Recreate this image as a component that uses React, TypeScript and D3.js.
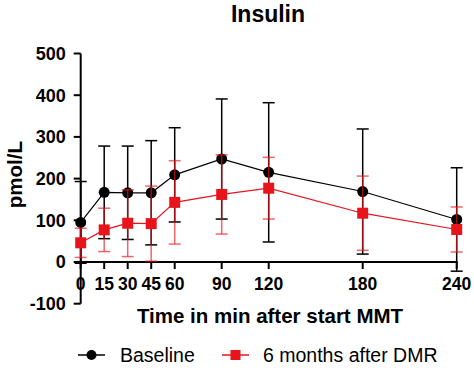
import React from "react";
import * as d3 from "d3";

const times = [0, 15, 30, 45, 60, 90, 120, 180, 240];
const baselineMean = [95, 167, 166, 166, 209, 247, 215, 169, 102];
const baselineSD = [98, 111, 112, 125, 113, 144, 167, 150, 124];
const dmrMean = [46, 77, 93, 92, 143, 162, 177, 117, 78];
const dmrSD = [35, 52, 80, 90, 100, 95, 74, 89, 54];
const yTicks = [-100, 0, 100, 200, 300, 400, 500];
const xTicks = [0, 15, 30, 45, 60, 90, 120, 180, 240];

const W = 474;
const H = 380;
const FONT = "'Liberation Sans', Arial, sans-serif";

export default function App() {
  const x = d3.scaleLinear().domain([0, 240]).range([80.7, 456.7]);
  const y = d3.scaleLinear().domain([-100, 500]).range([303.7, 53.5]);

  const line = d3
    .line<[number, number]>()
    .x((d) => x(d[0]))
    .y((d) => y(d[1]));

  const baseData = times.map((t, i) => [t, baselineMean[i]] as [number, number]);
  const dmrData = times.map((t, i) => [t, dmrMean[i]] as [number, number]);

  const cap = 6;
  const red = "#e8141c";

  const errorBars = (means: number[], sds: number[], color: string, opacity: number) =>
    times.map((t, i) => {
      const cx = x(t);
      const hi = y(means[i] + sds[i]);
      const lo = y(means[i] - sds[i]);
      return (
        <g key={i} stroke={color} strokeWidth={1.5} strokeOpacity={opacity}>
          <line x1={cx} x2={cx} y1={hi} y2={lo} />
          <line x1={cx - cap} x2={cx + cap} y1={hi} y2={hi} />
          <line x1={cx - cap} x2={cx + cap} y1={lo} y2={lo} />
        </g>
      );
    });

  return (
    <svg
      width={W}
      height={H}
      style={{ position: "absolute", left: 0, top: 0, background: "#fff" }}
      fontFamily={FONT}
    >
      <rect width={W} height={H} fill="#fff" />
      {/* Title */}
      <text x={268} y={21.5} textAnchor="middle" fontSize={23} fontWeight="bold">
        Insulin
      </text>

      {/* Y axis */}
      <line x1={x(0)} x2={x(0)} y1={y(-100)} y2={y(500)} stroke="#000" strokeWidth={2} />
      {yTicks.map((v) => (
        <g key={v}>
          <line x1={x(0) - 7} x2={x(0)} y1={y(v)} y2={y(v)} stroke="#000" strokeWidth={2} />
          <text
            x={x(0) - 15}
            y={y(v)}
            dy="0.36em"
            textAnchor="end"
            fontSize={18}
            fontWeight="bold"
          >
            {v}
          </text>
        </g>
      ))}
      <text
        transform={`translate(22,${(y(-100) + y(500)) / 2 - 4}) rotate(-90)`}
        textAnchor="middle"
        fontSize={20.5}
        fontWeight="bold"
      >
        pmol/L
      </text>

      {/* X axis */}
      <line x1={x(0) - 1} x2={x(240) + 1} y1={y(0)} y2={y(0)} stroke="#000" strokeWidth={2} />
      {xTicks.map((t) => (
        <g key={t}>
          <line x1={x(t)} x2={x(t)} y1={y(0)} y2={y(0) + 7} stroke="#000" strokeWidth={2} />
          <text x={x(t)} y={290} textAnchor="middle" fontSize={17.5} fontWeight="bold">
            {t}
          </text>
        </g>
      ))}
      <text x={270} y={323} textAnchor="middle" fontSize={20.5} fontWeight="bold">
        Time in min after start MMT
      </text>

      {/* Baseline series */}
      {errorBars(baselineMean, baselineSD, "#000", 1)}
      <path d={line(baseData) || ""} fill="none" stroke="#000" strokeWidth={1.2} />
      {baseData.map((d, i) => (
        <circle key={i} cx={x(d[0])} cy={y(d[1])} r={5.5} fill="#000" />
      ))}

      {/* DMR series */}
      {errorBars(dmrMean, dmrSD, red, 0.65)}
      <path d={line(dmrData) || ""} fill="none" stroke={red} strokeWidth={1.2} />
      {dmrData.map((d, i) => (
        <rect key={i} x={x(d[0]) - 5.5} y={y(d[1]) - 5.5} width={11} height={11} fill={red} />
      ))}

      {/* Legend */}
      <g>
        <line x1={78} x2={105} y1={355} y2={355} stroke="#000" strokeWidth={1.5} />
        <circle cx={91.5} cy={355} r={5} fill="#000" />
        <text x={120} y={355} dy="0.35em" fontSize={19.5}>
          Baseline
        </text>
        <line x1={222} x2={249} y1={355} y2={355} stroke={red} strokeWidth={1.5} />
        <rect x={230.5} y={350} width={10} height={10} fill={red} />
        <text x={263} y={355} dy="0.35em" fontSize={19.5}>
          6 months after DMR
        </text>
      </g>
    </svg>
  );
}
